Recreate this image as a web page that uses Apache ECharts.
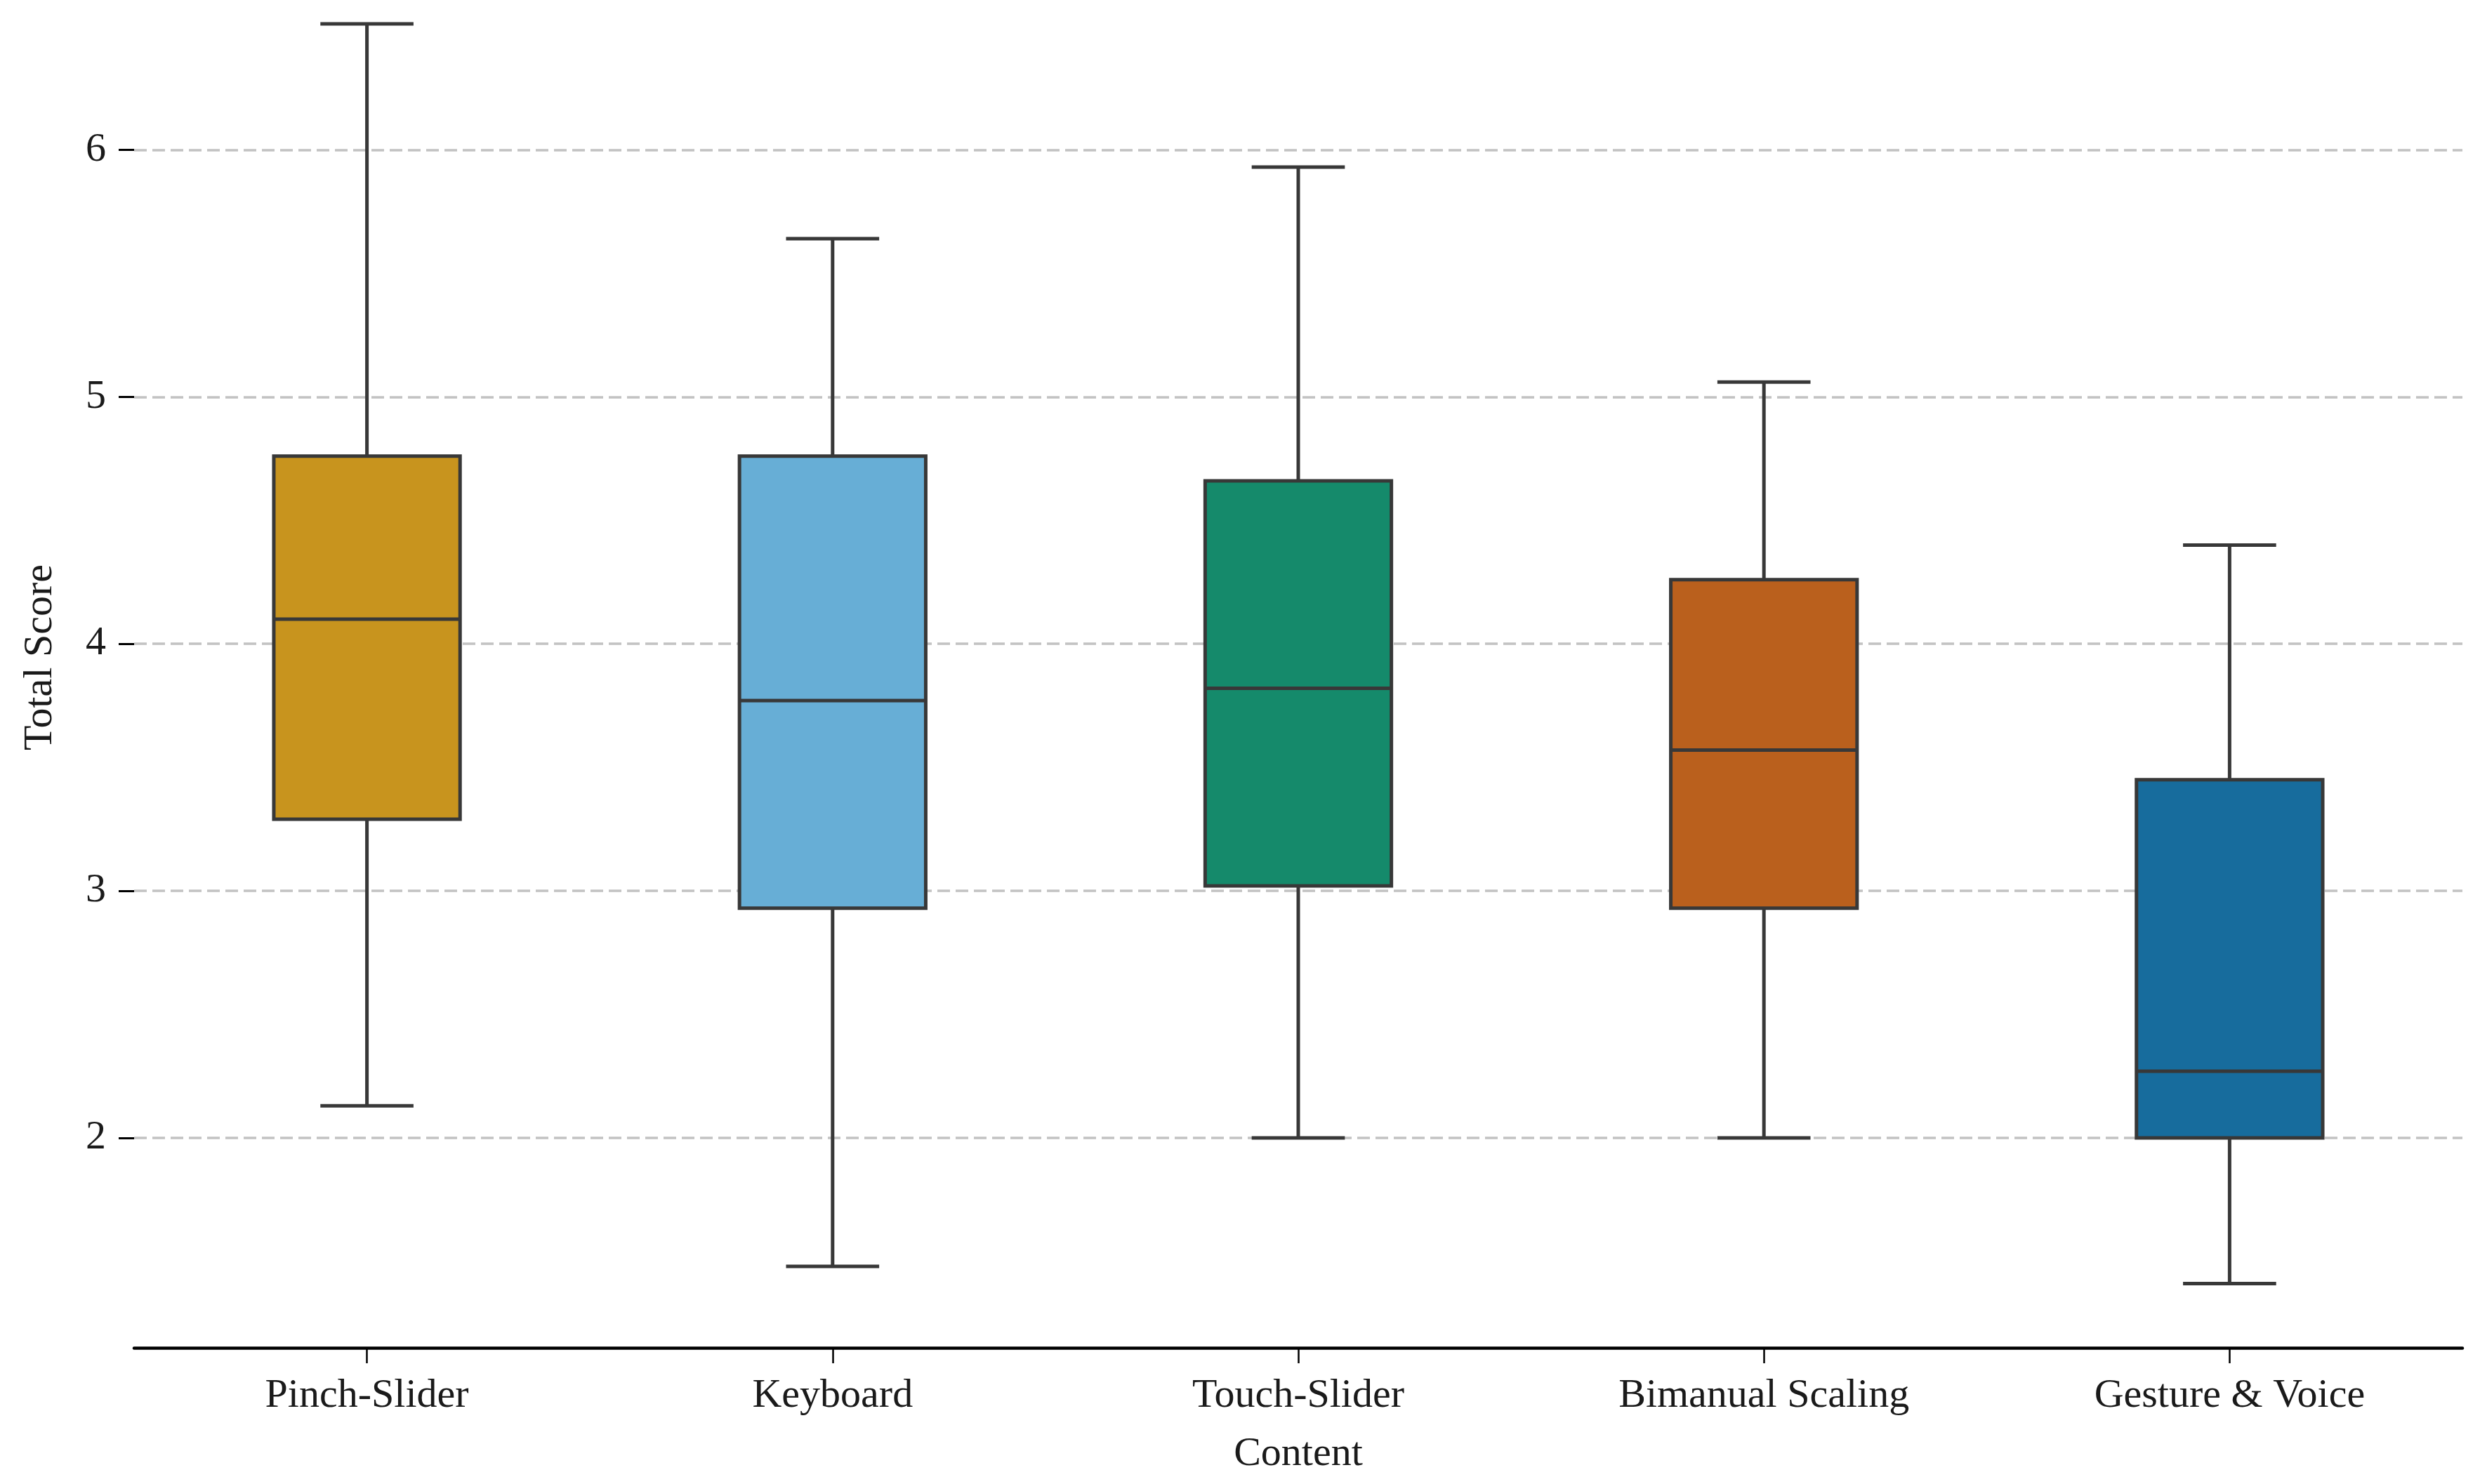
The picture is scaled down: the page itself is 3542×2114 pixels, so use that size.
<!DOCTYPE html>
<html>
<head>
<meta charset="utf-8">
<script src="https://cdn.jsdelivr.net/npm/echarts@6/dist/echarts.min.js"></script>
<style>
html,body{margin:0;padding:0;background:#fff;}
#chart{width:3542px;height:2114px;}
</style>
</head>
<body>
<div id="chart"></div>
<script>
var categories = ['Pinch-Slider', 'Keyboard', 'Touch-Slider', 'Bimanual Scaling', 'Gesture & Voice'];
var whiskerLow  = [2.13, 1.48, 2.00, 2.00, 1.41];
var q1Values    = [3.29, 2.93, 3.02, 2.93, 2.00];
var medians     = [4.10, 3.77, 3.82, 3.57, 2.27];
var q3Values    = [4.76, 4.76, 4.66, 4.26, 3.45];
var whiskerHigh = [6.51, 5.64, 5.93, 5.06, 4.40];
var boxColors   = ['#C8941E', '#67AED6', '#158A6B', '#BA601D', '#176C9D'];
var yTickValues = [2, 3, 4, 5, 6];

var seriesData = categories.map(function (c, i) {
  return [i, whiskerLow[i], q1Values[i], medians[i], q3Values[i], whiskerHigh[i]];
});

var LINE = '#383838';
var LW = 5;

function renderBox(params, api) {
  var idx = api.value(0);
  var band = api.size([1, 0])[0];
  var boxW = band * 0.4;
  var capW = band * 0.2;
  var pLow = api.coord([idx, api.value(1)]);
  var pQ1 = api.coord([idx, api.value(2)]);
  var pMed = api.coord([idx, api.value(3)]);
  var pQ3 = api.coord([idx, api.value(4)]);
  var pHigh = api.coord([idx, api.value(5)]);
  var cx = pMed[0];
  var lineStyle = {stroke: LINE, lineWidth: LW, fill: null};
  return {
    type: 'group',
    children: [
      {type: 'line', shape: {x1: cx, y1: pQ3[1], x2: cx, y2: pHigh[1]}, style: lineStyle},
      {type: 'line', shape: {x1: cx, y1: pQ1[1], x2: cx, y2: pLow[1]}, style: lineStyle},
      {type: 'line', shape: {x1: cx - capW / 2, y1: pHigh[1], x2: cx + capW / 2, y2: pHigh[1]}, style: lineStyle},
      {type: 'line', shape: {x1: cx - capW / 2, y1: pLow[1], x2: cx + capW / 2, y2: pLow[1]}, style: lineStyle},
      {type: 'rect', shape: {x: cx - boxW / 2, y: pQ3[1], width: boxW, height: pQ1[1] - pQ3[1]},
        style: {fill: boxColors[idx], stroke: LINE, lineWidth: LW}},
      {type: 'line', shape: {x1: cx - boxW / 2, y1: pMed[1], x2: cx + boxW / 2, y2: pMed[1]}, style: lineStyle}
    ]
  };
}

var FONT = '"Liberation Serif", "Times New Roman", serif';
var chart = echarts.init(document.getElementById('chart'));
chart.setOption({
  backgroundColor: '#ffffff',
  animation: false,
  grid: {left: 191, right: 35, top: -47, bottom: 194, containLabel: false, outerBoundsMode: 'none'},
  xAxis: {
    type: 'category',
    data: categories,
    boundaryGap: true,
    name: 'Content',
    nameLocation: 'middle',
    nameGap: 123,
    nameTextStyle: {fontFamily: FONT, fontSize: 58, color: '#1a1a1a'},
    axisLine: {show: true, lineStyle: {color: '#000', width: 4.5}},
    axisTick: {show: true, alignWithLabel: true, length: 22, lineStyle: {color: '#000', width: 2.5}},
    axisLabel: {fontFamily: FONT, fontSize: 58, color: '#1a1a1a', margin: 40},
    splitLine: {show: false}
  },
  yAxis: {
    type: 'value',
    min: 1.15,
    max: 6.74,
    name: 'Total Score',
    nameLocation: 'middle',
    nameGap: 104,
    nameRotate: 90,
    nameTextStyle: {fontFamily: FONT, fontSize: 58, color: '#1a1a1a'},
    axisLine: {show: false},
    axisTick: {show: true, length: 22, customValues: yTickValues, lineStyle: {color: '#000', width: 3}},
    axisLabel: {fontFamily: FONT, fontSize: 58, color: '#1a1a1a', margin: 40, customValues: yTickValues},
    splitLine: {show: true, lineStyle: {color: '#c2c2c2', width: 3.5, type: [18, 8]}}
  },
  series: [{
    type: 'custom',
    renderItem: renderBox,
    data: seriesData,
    encode: {x: 0, y: [1, 2, 3, 4, 5]},
    clip: false,
    z: 3
  }]
});
</script>
</body>
</html>
